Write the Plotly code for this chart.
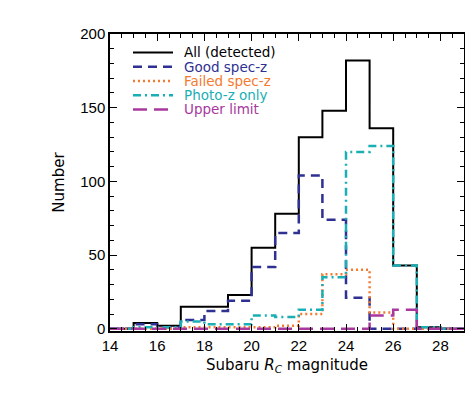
import plotly.graph_objects as go

# bin edges (Subaru R_C magnitude), 1 mag wide
edges = list(range(14, 30))

# counts per bin
n_all = [0, 4, 2, 15, 15, 23, 55, 78, 130, 148, 182, 136, 43, 1, 0]
n_good = [0, 3, 1, 6, 12, 19, 42, 65, 104, 74, 21, 0, 0, 0, 0]
n_failed = [0, 0, 0, 1, 1, 1, 1, 2, 10, 37, 40, 11, 0, 0, 0]
n_photo = [0, 1, 1, 5, 3, 3, 9, 8, 13, 35, 120, 124, 43, 1, 0]
n_upper = [0, 0, 0, 0, 0, 0, 0, 0, 0, 0, 0, 9, 13, 0, 0]

labels = ['All (detected)', 'Good spec-z', 'Failed spec-z', 'Photo-z only', 'Upper limit']
all_counts = [n_all, n_good, n_failed, n_photo, n_upper]
colors = ['black', '#2e3192', '#f47a30', '#1aafb4', '#a8389e']
dashes = ['solid', '9px,6px', '2px,3px', '8px,4px,2px,4px', '14px,7px']
widths = [2, 2.5, 2.5, 2.5, 2.5]

fig = go.Figure()
for name, counts, col, dash, w in zip(labels, all_counts, colors, dashes, widths):
    # step outline: each count held across its bin
    fig.add_trace(go.Scatter(
        x=edges, y=counts + [counts[-1]],
        mode='lines', line=dict(color=col, dash=dash, width=w, shape='hv'),
        name=name, showlegend=False))

# hand-made legend (tighter row spacing than plotly's own legend)
row_y = [0.938, 0.890, 0.842, 0.794, 0.746]
for name, col, dash, w, yy in zip(labels, colors, dashes, widths, row_y):
    fig.add_shape(type='line', xref='paper', yref='paper',
                  x0=0.065, x1=0.178, y0=yy, y1=yy,
                  line=dict(color=col, dash=dash, width=w))
    fig.add_annotation(xref='paper', yref='paper', x=0.205, y=yy,
                       xanchor='left', yanchor='middle', showarrow=False,
                       borderpad=0,
                       text=name, font=dict(family='DejaVu Sans', size=13.5, color=col))

axis_common = dict(
    showline=True, linecolor='black', linewidth=1.5, mirror='allticks',
    ticks='inside', ticklen=7, tickwidth=1.2, tickcolor='black',
    showgrid=False, zeroline=False, automargin=False,
    tickfont=dict(family='Liberation Sans, Arial', size=15, color='black'),
)

# page body has an 8px default margin, so the figure is drawn 8px in
fig.update_layout(
    width=465, height=386,
    margin=dict(l=102, r=9, t=26, b=63),
    paper_bgcolor='white', plot_bgcolor='white',
    xaxis=dict(range=[14, 29], dtick=2, tick0=14,
               minor=dict(dtick=0.5, ticklen=4, tickcolor='black', ticks='inside'),
               title=dict(text='Subaru <i>R</i><sub><i>C</i></sub> magnitude',
                          font=dict(family='DejaVu Sans', size=15, color='black'),
                          standoff=7),
               **axis_common),
    yaxis=dict(range=[-1.5, 200], dtick=50, tick0=0,
               minor=dict(dtick=10, ticklen=4, tickcolor='black', ticks='inside'),
               title=dict(text='Number',
                          font=dict(family='DejaVu Sans', size=15, color='black'),
                          standoff=12),
               **axis_common),
    showlegend=False,
)

fig.write_html("out.html")
